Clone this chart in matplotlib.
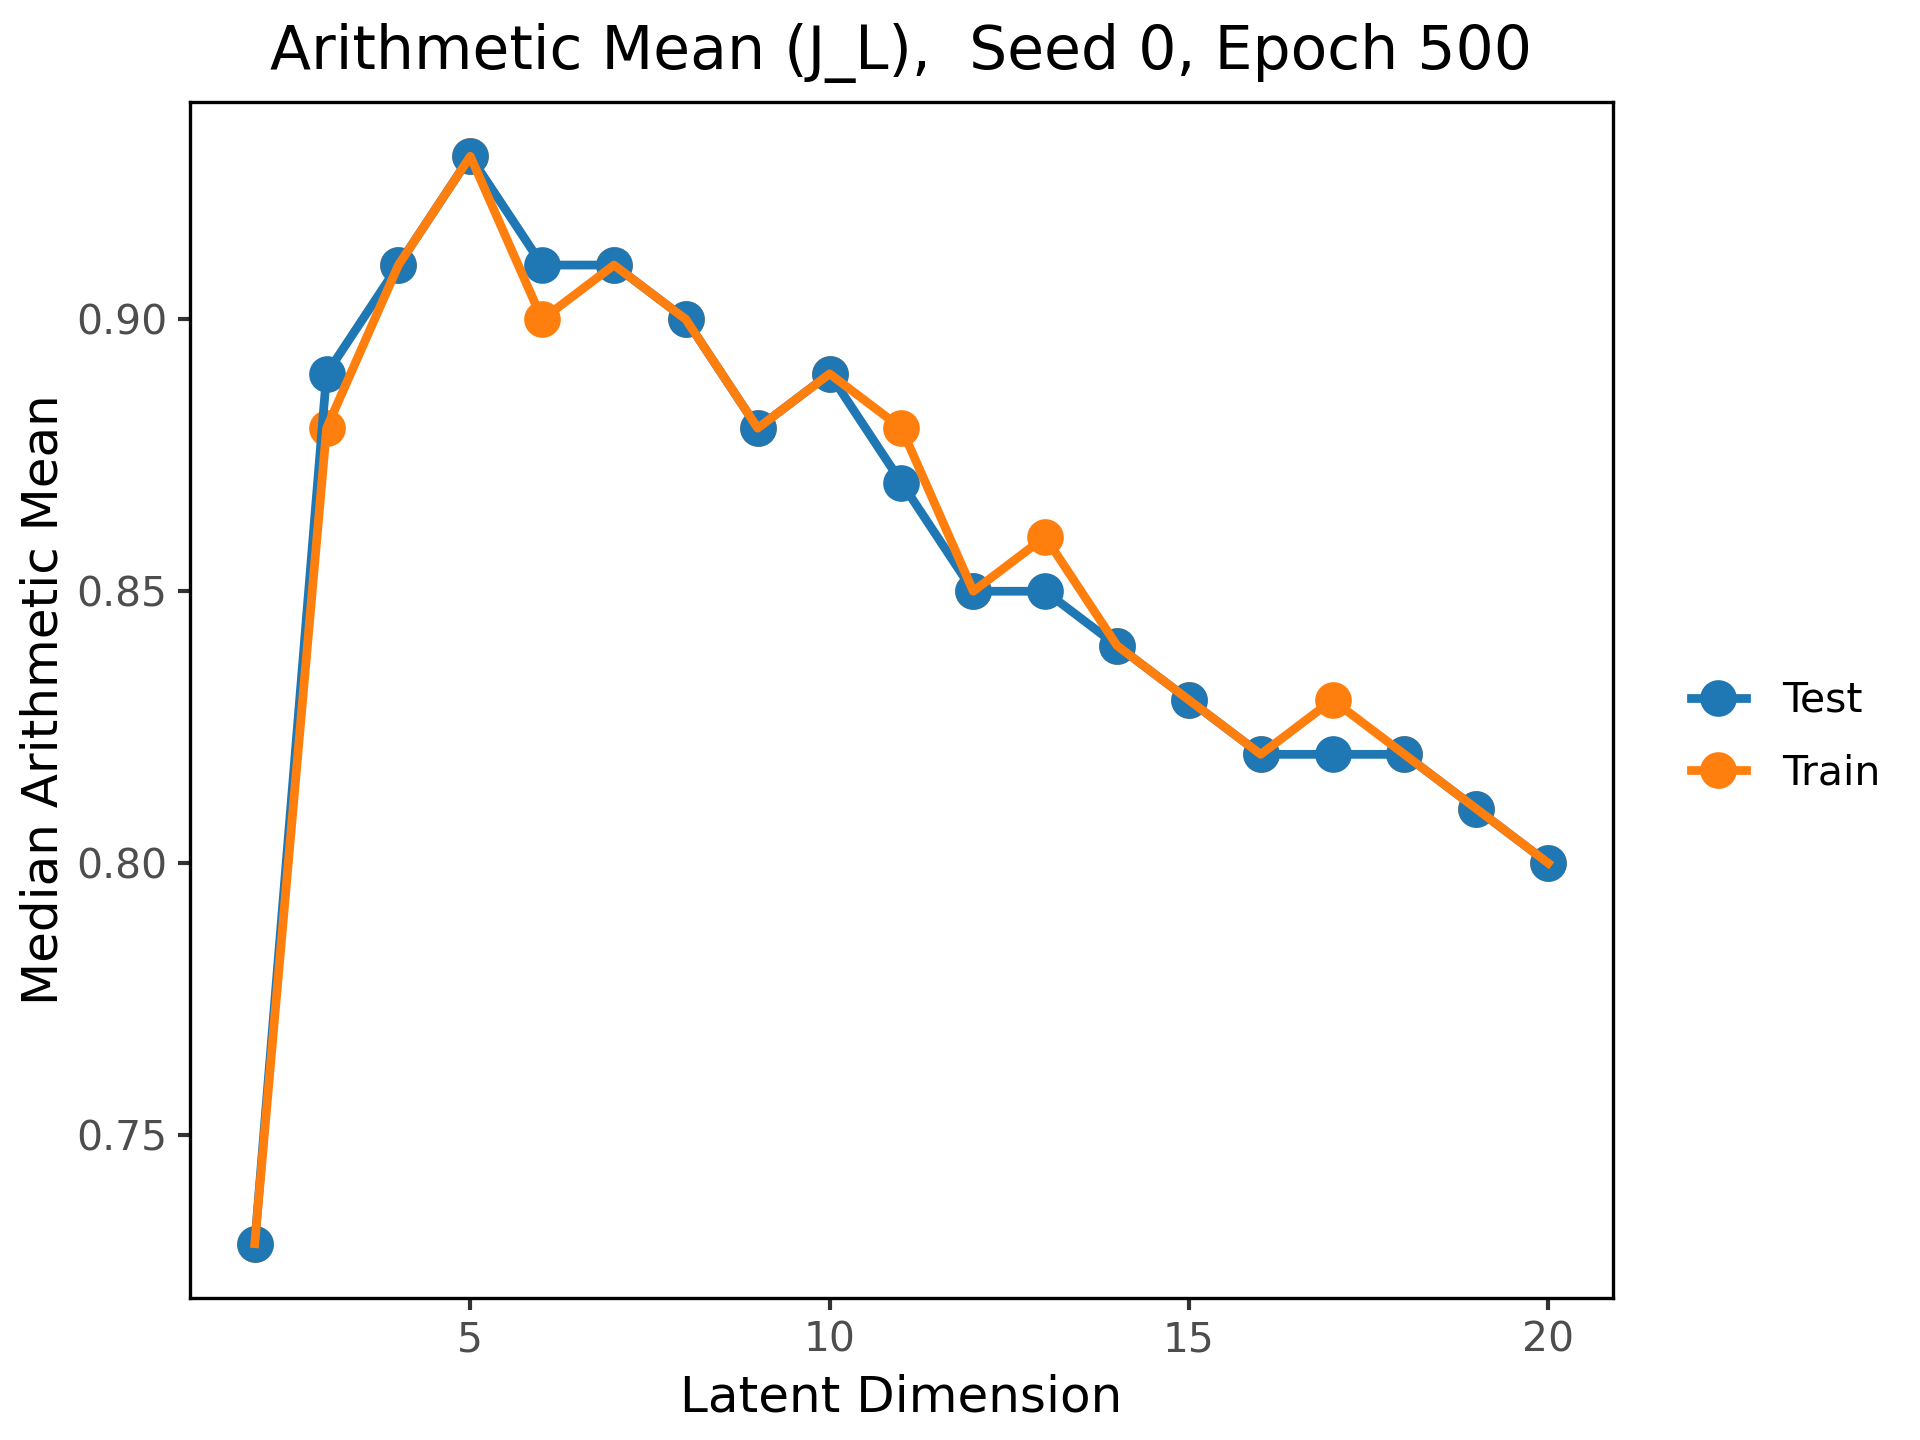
import matplotlib
matplotlib.use("Agg")
import matplotlib.pyplot as plt

latent_dim = [2, 3, 4, 5, 6, 7, 8, 9, 10, 11, 12, 13, 14, 15, 16, 17, 18, 19, 20]
test_vals = [0.73, 0.89, 0.91, 0.93, 0.91, 0.91, 0.90, 0.88, 0.89, 0.87,
             0.85, 0.85, 0.84, 0.83, 0.82, 0.82, 0.82, 0.81, 0.80]
train_vals = [0.73, 0.88, 0.91, 0.93, 0.90, 0.91, 0.90, 0.88, 0.89, 0.88,
              0.85, 0.86, 0.84, 0.83, 0.82, 0.83, 0.82, 0.81, 0.80]

blue = "#1f77b4"
orange = "#ff7f0e"

fig = plt.figure(figsize=(6.4, 4.8), dpi=300)
ax = fig.add_axes([0.099, 0.0986, 0.741, 0.8306])

# points first, lines on top (like the original)
ax.plot(latent_dim, train_vals, "o", color=orange, markersize=7.8, zorder=2)
ax.plot(latent_dim, test_vals, "o", color=blue, markersize=7.8, zorder=3)
ax.plot(latent_dim, test_vals, "-", color=blue, linewidth=2.1, zorder=4)
ax.plot(latent_dim, train_vals, "-", color=orange, linewidth=2.1, zorder=5)

ax.set_xticks([5, 10, 15, 20])
ax.set_yticks([0.75, 0.80, 0.85, 0.90])
ax.set_yticklabels(["0.75", "0.80", "0.85", "0.90"])
ax.margins(x=0.05, y=0.05)

for s in ax.spines.values():
    s.set_linewidth(0.8)
    s.set_color("black")
ax.tick_params(length=2.9, width=1.0, color="#333333", labelcolor="#4D4D4D",
               labelsize=9.8, pad=2.5)

ax.set_xlabel("Latent Dimension", fontsize=12, labelpad=3)
ax.set_ylabel("Median Arithmetic Mean", fontsize=12, labelpad=2)
ax.set_title("Arithmetic Mean (J_L),  Seed 0, Epoch 500", fontsize=14.4, pad=8)

h1, = ax.plot([], [], "-o", color=blue, linewidth=2.1, markersize=7.8)
h2, = ax.plot([], [], "-o", color=orange, linewidth=2.1, markersize=7.8)
fig.legend([h1, h2], ["Test", "Train"], loc="center left",
           bbox_to_anchor=(0.872, 0.488), frameon=False, fontsize=9.8,
           handlelength=1.35, handletextpad=0.9, labelspacing=0.8,
           borderaxespad=0)

fig.savefig("out.png", dpi=300)
